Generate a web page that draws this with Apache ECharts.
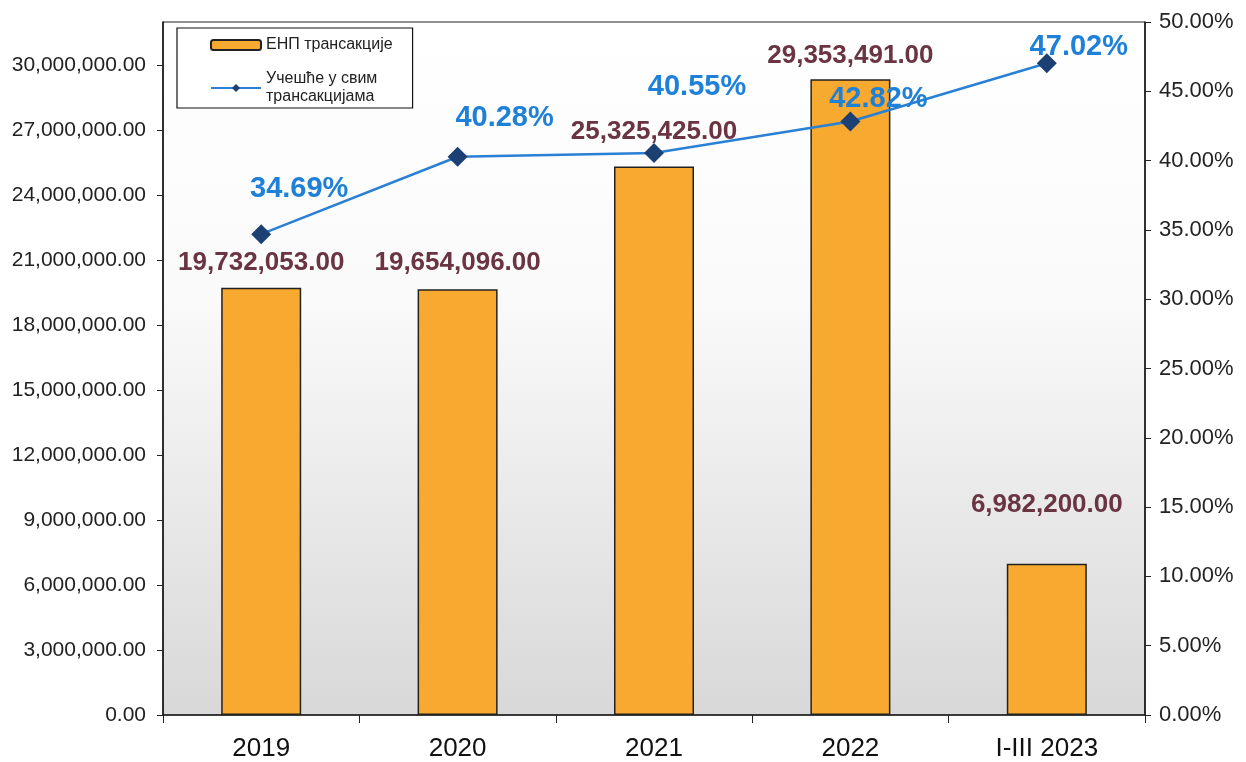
<!DOCTYPE html>
<html>
<head>
<meta charset="utf-8">
<script src="https://cdn.jsdelivr.net/npm/echarts@6/dist/echarts.min.js"></script>
<style>
html,body{margin:0;padding:0;background:#fff;}
#chart{width:1246px;height:762px;}
</style>
</head>
<body>
<div id="chart"></div>
<script>
// ---- data ----
const categories = ['2019', '2020', '2021', '2022', 'I-III 2023'];
const enpTransactions = [19732053.00, 19654096.00, 25325425.00, 29353491.00, 6982200.00];
const shareAllTransactions = [34.69, 40.28, 40.55, 42.82, 47.02];
const barSeriesName = 'ЕНП трансакције';
const lineSeriesName = 'Учешће у свим трансакцијама';
const lineLegendText = 'Учешће у свим\nтрансакцијама';

// ---- layout (label placement, px) ----
const barLabelRise = [26, 28, 36, 24, 60];
const lineLabelOffset = [[38, -45], [47, -39], [43, -66], [28, -23], [32, -16]];

function fmtNum(v) {
  return v.toLocaleString('en-US', {minimumFractionDigits: 2, maximumFractionDigits: 2});
}

const FONT = 'Liberation Sans, Arial, sans-serif';
const chart = echarts.init(document.getElementById('chart'), null, {renderer: 'canvas'});

const barData = enpTransactions.map((v, i) => ({
  value: v,
  label: {distance: barLabelRise[i] - 14}
}));
const lineData = shareAllTransactions.map((v, i) => ({
  value: v,
  label: {offset: lineLabelOffset[i]}
}));

chart.setOption({
  animation: false,
  backgroundColor: '#ffffff',
  textStyle: {fontFamily: FONT},
  grid: {
    left: 163, right: 101, top: 22, bottom: 46,
    show: true,
    borderColor: '#222',
    borderWidth: 1,
    backgroundColor: {
      type: 'linear', x: 0, y: 0, x2: 0, y2: 1,
      colorStops: [
        {offset: 0, color: '#ffffff'},
        {offset: 0.4, color: '#fafafa'},
        {offset: 1, color: '#d8d8d8'}
      ]
    }
  },
  legend: {
    orient: 'vertical',
    left: 177, top: 28,
    padding: [8, 20, 2, 33],
    itemGap: 16,
    itemWidth: 50,
    itemHeight: 10,
    backgroundColor: '#fff',
    borderColor: '#111',
    borderWidth: 1.2,
    borderRadius: 0,
    textStyle: {fontFamily: FONT, fontSize: 16, color: '#222', lineHeight: 18},
    formatter: function (name) { return name === lineSeriesName ? lineLegendText : name; },
    data: [barSeriesName, lineSeriesName]
  },
  xAxis: {
    type: 'category',
    data: categories,
    boundaryGap: true,
    axisLine: {lineStyle: {color: '#222', width: 1.5}},
    axisTick: {show: true, length: 8, inside: false, alignWithLabel: false, lineStyle: {color: '#222'}},
    axisLabel: {fontFamily: FONT, fontSize: 26, color: '#111', margin: 21}
  },
  yAxis: [
    {
      type: 'value',
      min: 0, max: 32000000, interval: 3000000,
      axisLine: {show: true, lineStyle: {color: '#111', width: 1.5}},
      axisTick: {show: true, length: 6, lineStyle: {color: '#222'}},
      splitLine: {show: false},
      axisLabel: {
        fontFamily: FONT, fontSize: 21, color: '#222', margin: 17,
        showMaxLabel: false,
        formatter: v => fmtNum(v)
      }
    },
    {
      type: 'value',
      min: 0, max: 50, interval: 5,
      position: 'right',
      axisLine: {show: true, lineStyle: {color: '#111', width: 1.5}},
      axisTick: {show: true, length: 6, lineStyle: {color: '#222'}},
      splitLine: {show: false},
      axisLabel: {
        fontFamily: FONT, fontSize: 22, color: '#222', margin: 14,
        formatter: v => v.toFixed(2) + '%'
      }
    }
  ],
  series: [
    {
      name: barSeriesName,
      type: 'bar',
      yAxisIndex: 0,
      barWidth: 80,
      data: barData,
      itemStyle: {color: '#f8a92f', borderColor: '#222', borderWidth: 1.5},
      label: {
        show: true, position: 'top',
        fontFamily: FONT, fontSize: 26, fontWeight: 'bold', color: '#6a3442',
        formatter: p => fmtNum(p.value)
      }
    },
    {
      name: lineSeriesName,
      type: 'line',
      yAxisIndex: 1,
      data: lineData,
      symbol: 'diamond',
      symbolSize: 20,
      lineStyle: {color: '#2a80d4', width: 2.5},
      itemStyle: {color: '#1c3f74'},
      label: {
        show: true, position: 'inside',
        fontFamily: FONT, fontSize: 29, fontWeight: 'bold', color: '#1f80d8',
        formatter: p => p.value.toFixed(2) + '%'
      },
      z: 5
    }
  ]
});
</script>
</body>
</html>
